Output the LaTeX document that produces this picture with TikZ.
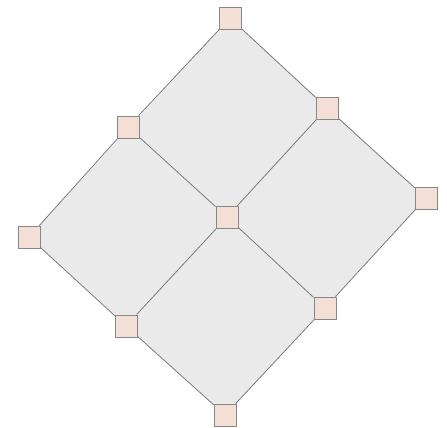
\documentclass[tikz,border=0pt]{standalone}
\usepackage{xcolor}
\usetikzlibrary{backgrounds}

\definecolor{tilegray}{HTML}{EAEAEA}
\definecolor{padpink}{HTML}{F3DFD5}
\definecolor{edgegray}{HTML}{7A7A7A}

\begin{document}
\begin{tikzpicture}[
    x=1pt, y=-1pt,
    pad/.style={
        draw=edgegray!90,
        fill=padpink,
        line width=0.9pt,
        minimum size=22pt,
        inner sep=0pt
    },
    seam/.style={
        draw=edgegray,
        line width=0.8pt
    }
]
\useasboundingbox (0,0) rectangle (447,428);

% corner pads of the tilted grid
\node[pad] (top)   at (230,18)  {};
\node[pad] (upl)   at (128,127) {};
\node[pad] (upr)   at (327,108) {};
\node[pad] (left)  at (29,237)  {};
\node[pad] (mid)   at (227,217) {};
\node[pad] (right) at (426,198) {};
\node[pad] (lowl)  at (126,326) {};
\node[pad] (lowr)  at (325,308) {};
\node[pad] (bot)   at (225,415) {};

\begin{scope}[on background layer]
\fill[tilegray] (top.center) -- (right.center) -- (bot.center) -- (left.center) -- cycle;
\draw[seam] (top) -- (upr) -- (right);
\draw[seam] (upl) -- (mid) -- (lowr);
\draw[seam] (left) -- (lowl) -- (bot);
\draw[seam] (top) -- (upl) -- (left);
\draw[seam] (upr) -- (mid) -- (lowl);
\draw[seam] (right) -- (lowr) -- (bot);
\end{scope}

\end{tikzpicture}
\end{document}
